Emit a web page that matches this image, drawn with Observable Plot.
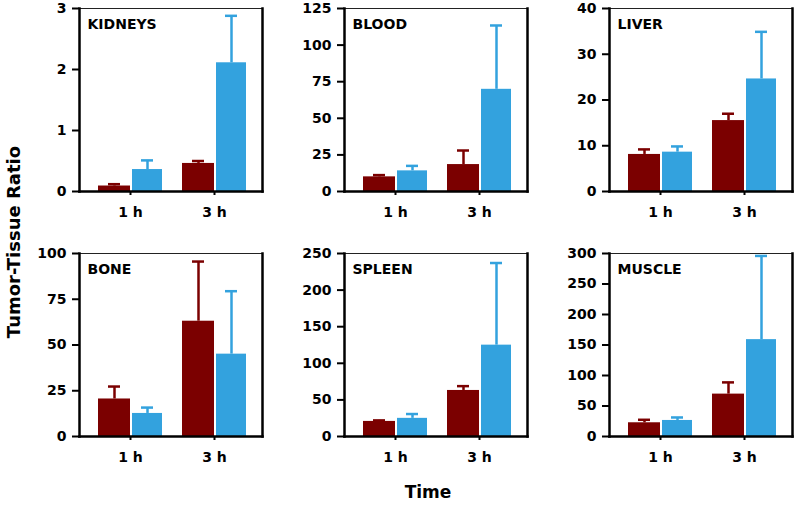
<!DOCTYPE html>
<html>
<head>
<meta charset="utf-8">
<script src="https://cdn.jsdelivr.net/npm/d3@7"></script>
<script src="https://cdn.jsdelivr.net/npm/@observablehq/plot@0.6"></script>
<style>
  html, body { margin: 0; padding: 0; background: #fff; }
  #root { position: relative; width: 800px; height: 505px; overflow: hidden; font-family: "DejaVu Sans", sans-serif; }
  .panel { position: absolute; }
  .ylab { position: absolute; left: 13px; top: 242px; transform: translate(-50%, -50%) rotate(-90deg); font-weight: bold; font-size: 18px; white-space: nowrap; color: #000; }
  .xlab { position: absolute; left: 428px; top: 492px; transform: translate(-50%, -50%); font-weight: bold; font-size: 17px; color: #000; }
</style>
</head>
<body>
<div id="root">
  <div class="ylab">Tumor-Tissue Ratio</div>
  <div class="xlab">Time</div>
</div>
<script>
// ---- data ----
const panels = ["KIDNEYS", "BLOOD", "LIVER", "BONE", "SPLEEN", "MUSCLE"];
const times = ["1 h", "3 h"];
// dark red series: mean and error-bar top, per panel [1 h, 3 h]
const redMean  = [[0.09, 0.46], [10.0, 18.4], [8.1, 15.5], [20.5, 63.0], [20.6, 62.9], [22.5, 69.5]];
const redUpper = [[0.12, 0.50], [11.2, 28.0], [9.2, 17.0], [27.3, 95.6], [22.0, 68.8], [27.4, 88.7]];
// blue series
const blueMean  = [[0.36, 2.11], [14.1, 69.8], [8.6, 24.6], [12.6, 45.0], [24.8, 124.8], [26.3, 158.8]];
const blueUpper = [[0.51, 2.88], [17.5, 113.4], [9.85, 34.9], [15.8, 79.4], [30.7, 237], [31.2, 296]];
const yMax = [3, 125, 40, 100, 250, 300];
const yTicks = [
  [0, 1, 2, 3],
  [0, 25, 50, 75, 100, 125],
  [0, 10, 20, 30, 40],
  [0, 25, 50, 75, 100],
  [0, 50, 100, 150, 200, 250],
  [0, 50, 100, 150, 200, 250, 300]
];

// ---- layout / style ----
const RED = "#7b0000";
const BLUE = "#33a2de";
const frameLefts = [79, 344, 609];
const frameTops = [8, 252.5];
const FW = 183, FH = 183;
const ML = 50, MR = 6, MT = 10, MB = 32;

const root = document.getElementById("root");

panels.forEach((name, p) => {
  const col = p % 3, row = Math.floor(p / 3);
  const red = times.map((t, i) => ({time: t, value: redMean[p][i], upper: redUpper[p][i]}));
  const blue = times.map((t, i) => ({time: t, value: blueMean[p][i], upper: blueUpper[p][i]}));

  const chart = Plot.plot({
    width: ML + FW + MR,
    height: MT + FH + MB,
    marginLeft: ML, marginRight: MR, marginTop: MT, marginBottom: MB,
    style: {fontFamily: "DejaVu Sans, sans-serif", fontSize: "14px", fontWeight: "bold", color: "#000", background: "transparent", overflow: "visible"},
    x: {type: "band", domain: times, range: [ML + 19, ML + 167], paddingInner: 0.24, paddingOuter: 0, label: null, axis: null},
    y: {domain: [0, yMax[p]], label: null, axis: null},
    marks: [
      Plot.barY(red, {x: "time", y: "value", fill: RED, insetRight: 32}),
      Plot.barY(blue, {x: "time", y: "value", fill: BLUE, insetLeft: 34}),
      Plot.ruleX(red, {x: "time", y1: "value", y2: "upper", stroke: RED, strokeWidth: 2.5, dx: -16}),
      Plot.tickY(red, {x: "time", y: "upper", stroke: RED, strokeWidth: 2.5, dx: -16, insetLeft: 26, insetRight: 26}),
      Plot.ruleX(blue, {x: "time", y1: "value", y2: "upper", stroke: BLUE, strokeWidth: 2.5, dx: 17}),
      Plot.tickY(blue, {x: "time", y: "upper", stroke: BLUE, strokeWidth: 2.5, dx: 17, insetLeft: 26, insetRight: 26}),
      Plot.frame({stroke: "#222", strokeWidth: 1}),
      Plot.frame({anchor: "left", stroke: "#000", strokeWidth: 2.5}),
      Plot.frame({anchor: "right", stroke: "#000", strokeWidth: 2.5}),
      Plot.frame({anchor: "bottom", stroke: "#000", strokeWidth: 2.5}),
      Plot.axisY({ticks: yTicks[p], tickFormat: d => String(d), tickSize: 7, tickPadding: 6, strokeWidth: 2, label: null, fontWeight: "bold", fontSize: 14}),
      Plot.axisX({tickSize: 4, tickPadding: 12, strokeWidth: 2, label: null, fontWeight: "bold", fontSize: 14}),
      Plot.text([name], {frameAnchor: "top-left", textAnchor: "start", lineAnchor: "top", dx: 8, dy: 11, fontSize: 14, fontWeight: "bold", fill: "#000"})
    ]
  });
  const wrap = document.createElement("div");
  wrap.className = "panel";
  wrap.style.left = (frameLefts[col] - ML) + "px";
  wrap.style.top = (frameTops[row] - MT) + "px";
  wrap.appendChild(chart);
  root.appendChild(wrap);
});
</script>
</body>
</html>
